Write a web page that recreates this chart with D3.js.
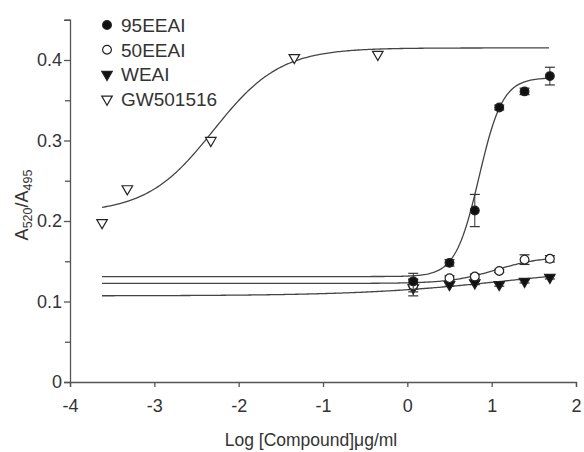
<!DOCTYPE html>
<html>
<head>
<meta charset="utf-8">
<script src="https://cdn.jsdelivr.net/npm/d3@7"></script>
<style>
  body { margin: 0; background: #fff; }
  text { font-family: "Liberation Sans", Arial, sans-serif; fill: #333; }
</style>
</head>
<body>
<div id="container"></div>
<script>
/* CONSTANTS AND GLOBALS */
const width = 584,
  height = 452,
  margin = { top: 20, bottom: 70, left: 70, right: 8 };

/* DATA */
// log concentration for the three extracts
const xConc = [0.07, 0.5, 0.8, 1.09, 1.39, 1.69];
const eeai95 = [0.125, 0.148, 0.213, 0.341, 0.361, 0.380];
const eeai95Err = [0.010, 0.004, 0.020, 0.003, 0.004, 0.011];
const eeai50 = [0.120, 0.129, 0.131, 0.138, 0.152, 0.153];
const eeai50Err = [0.008, 0.003, 0.003, 0.002, 0.006, 0.004];
const weai = [0.117, 0.121, 0.123, 0.121, 0.125, 0.130];
const weaiErr = [0.010, 0.002, 0.002, 0.002, 0.002, 0.002];
// GW501516
const gwX = [-3.62, -3.32, -2.33, -1.34, -0.35];
const gw = [0.198, 0.240, 0.300, 0.403, 0.407];

// fitted curves: bottom, top, logEC50, hill
const fit95 = [0.131, 0.378, 0.85, 3.1];
const fit50 = [0.1225, 0.156, 1.05, 1.6];
const fitW = [0.107, 0.145, 1.2, 0.5];
const fitGW = [0.21, 0.415, -2.3, 1.1];
const curveRange = [-3.62, 1.69];

const xTicks = [-4, -3, -2, -1, 0, 1, 2];
const yTicks = [0, 0.1, 0.2, 0.3, 0.4];
const yMinor = [0.05, 0.15, 0.25, 0.35, 0.45];

const legendNames = ["95EEAI", "50EEAI", "WEAI", "GW501516"];

// SCALES
const xScale = d3.scaleLinear()
  .domain([-4, 2])
  .range([margin.left, 576]);

const yScale = d3.scaleLinear()
  .domain([0, 0.45])
  .range([height - margin.bottom, height - margin.bottom - 0.45 * 805]);

// CREATE SVG ELEMENT
const svg = d3.select("#container")
  .append("svg")
  .attr("width", width)
  .attr("height", height);

// AXES
const xAxis = d3.axisBottom(xScale)
  .tickValues(xTicks)
  .tickFormat(d => String(d))
  .tickSizeOuter(0)
  .tickSize(5)
  .tickPadding(12);

const xAxisGroup = svg.append("g")
  .attr("transform", `translate(0, ${yScale(0)})`)
  .call(xAxis);

const yAxis = d3.axisLeft(yScale)
  .tickValues(yTicks)
  .tickFormat(d => d === 0 ? "0" : d3.format(".1f")(d))
  .tickSizeOuter(0)
  .tickSize(6)
  .tickPadding(2);

const yAxisGroup = svg.append("g")
  .attr("transform", `translate(${xScale(-4)}, 0)`)
  .call(yAxis);

svg.append("g")
  .attr("transform", `translate(${xScale(-4)}, 0)`)
  .call(d3.axisLeft(yScale).tickValues(yMinor).tickSize(5).tickFormat("").tickSizeOuter(0))
  .select(".domain").remove();

svg.selectAll(".domain, .tick line")
  .attr("stroke", "#555")
  .attr("stroke-width", 1.3);

svg.selectAll(".tick text")
  .attr("font-size", 18)
  .attr("font-family", "'Liberation Sans', Arial, sans-serif")
  .attr("fill", "#333");

// AXIS TITLES
svg.append("text")
  .attr("x", 311)
  .attr("y", 446)
  .attr("font-size", 17.5)
  .attr("text-anchor", "middle")
  .text("Log [Compound]\u03bcg/ml");

const yLabel = svg.append("text")
  .attr("transform", "translate(28, 205) rotate(-90)")
  .attr("font-size", 18)
  .attr("text-anchor", "middle");
yLabel.append("tspan").text("A");
yLabel.append("tspan").attr("font-size", 12.5).attr("dy", 4).text("520");
yLabel.append("tspan").attr("dy", -4).text("/A");
yLabel.append("tspan").attr("font-size", 12.5).attr("dy", 4).text("495");

// CURVES
const logistic = p => x => p[0] + (p[1] - p[0]) / (1 + Math.pow(10, (p[2] - x) * p[3]));
const curveX = d3.range(curveRange[0], curveRange[1] + 0.001, 0.02);

const lineGen = d3.line()
  .x(d => xScale(d[0]))
  .y(d => yScale(d[1]));

[fitW, fit50, fit95, fitGW].forEach(p => {
  const f = logistic(p);
  svg.append("path")
    .datum(curveX.map(x => [x, f(x)]))
    .attr("d", lineGen)
    .attr("fill", "none")
    .attr("stroke", "#444")
    .attr("stroke-width", 1.3);
});

// SYMBOLS
const triDown = d3.symbol().type(d3.symbolTriangle).size(48);
const circleSym = d3.symbol().type(d3.symbolCircle).size(60);

function drawSeries(xs, ys, errs, sym, filled) {
  const g = svg.append("g");
  if (errs) {
    xs.forEach((x, i) => {
      const cx = xScale(x), y0 = yScale(ys[i] - errs[i]), y1 = yScale(ys[i] + errs[i]);
      g.append("line").attr("x1", cx).attr("x2", cx).attr("y1", y0).attr("y2", y1)
        .attr("stroke", "#333").attr("stroke-width", 1);
      [y0, y1].forEach(yy => {
        g.append("line").attr("x1", cx - 5).attr("x2", cx + 5).attr("y1", yy).attr("y2", yy)
          .attr("stroke", "#333").attr("stroke-width", 1.2);
      });
    });
  }
  g.selectAll("path")
    .data(xs)
    .join("path")
    .attr("d", sym)
    .attr("transform", (d, i) => `translate(${xScale(d)}, ${yScale(ys[i])})` + (sym === triDown ? " rotate(180)" : ""))
    .attr("fill", filled ? "#111" : "#fff")
    .attr("stroke", "#222")
    .attr("stroke-width", 1.2);
}

drawSeries(xConc, weai, weaiErr, triDown, true);
drawSeries(xConc, eeai50, eeai50Err, circleSym, false);
drawSeries(xConc, eeai95, eeai95Err, circleSym, true);
drawSeries(gwX, gw, null, triDown, false);

// LEGEND
const legendSyms = [[circleSym, true], [circleSym, false], [triDown, true], [triDown, false]];
legendNames.forEach((name, i) => {
  const ly = 25 + i * 24.7;
  svg.append("path")
    .attr("d", legendSyms[i][0])
    .attr("transform", `translate(107, ${ly})` + (legendSyms[i][0] === triDown ? " rotate(180)" : ""))
    .attr("fill", legendSyms[i][1] ? "#111" : "#fff")
    .attr("stroke", "#222")
    .attr("stroke-width", 1.2);
  svg.append("text")
    .attr("x", 121)
    .attr("y", ly + 7)
    .attr("font-size", 19)
    .text(name);
});
</script>
</body>
</html>
